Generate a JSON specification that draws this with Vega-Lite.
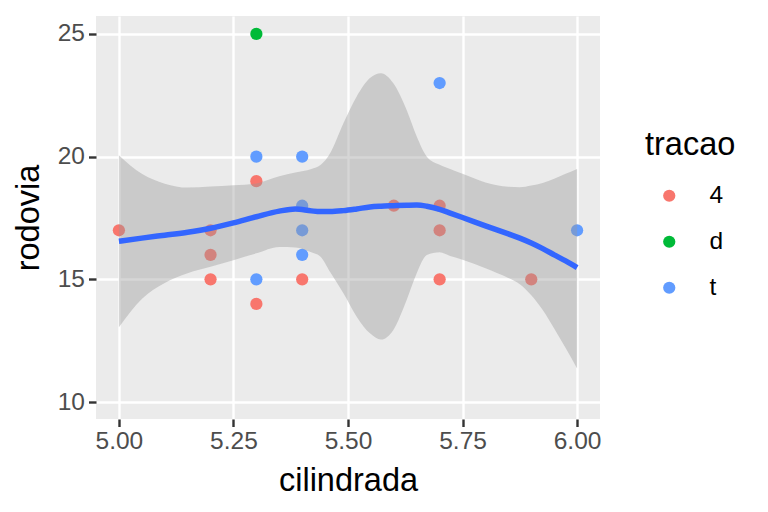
{
  "$schema": "https://vega.github.io/schema/vega-lite/v6.json",
  "width": 504,
  "height": 403,
  "autosize": {"type": "none"},
  "padding": {"left": 96, "top": 16, "right": 168, "bottom": 93},
  "background": "#FFFFFF",
  "config": {
    "font": "Liberation Sans",
    "view": {"fill": "#EBEBEB", "stroke": null},
    "axis": {
      "domain": false,
      "gridColor": "#FFFFFF",
      "gridWidth": 2.4,
      "tickColor": "#333333",
      "tickWidth": 2.4,
      "tickSize": 7.5,
      "labelColor": "#4D4D4D",
      "labelFontSize": 24.5,
      "titleColor": "#000000",
      "titleFontSize": 32.5,
      "titleFontWeight": "normal"
    },
    "legend": {
      "titleFontSize": 32.5,
      "titleFontWeight": "normal",
      "titleColor": "#000000",
      "labelFontSize": 24.5,
      "labelColor": "#000000",
      "symbolType": "circle",
      "symbolSize": 150,
      "symbolStrokeWidth": 0,
      "symbolOpacity": 1,
      "rowPadding": 21,
      "titlePadding": 22,
      "symbolOffset": 12,
      "labelOffset": 28
    }
  },
  "datasets": {
    "pts": [
      {"cilindrada": 5.0, "rodovia": 17, "tracao": "4"},
      {"cilindrada": 5.2, "rodovia": 17, "tracao": "4"},
      {"cilindrada": 5.2, "rodovia": 16, "tracao": "4"},
      {"cilindrada": 5.2, "rodovia": 15, "tracao": "4"},
      {"cilindrada": 5.3, "rodovia": 19, "tracao": "4"},
      {"cilindrada": 5.3, "rodovia": 14, "tracao": "4"},
      {"cilindrada": 5.4, "rodovia": 15, "tracao": "4"},
      {"cilindrada": 5.6, "rodovia": 18, "tracao": "4"},
      {"cilindrada": 5.7, "rodovia": 18, "tracao": "4"},
      {"cilindrada": 5.7, "rodovia": 17, "tracao": "4"},
      {"cilindrada": 5.7, "rodovia": 15, "tracao": "4"},
      {"cilindrada": 5.9, "rodovia": 15, "tracao": "4"},
      {"cilindrada": 5.3, "rodovia": 25, "tracao": "d"},
      {"cilindrada": 5.3, "rodovia": 20, "tracao": "t"},
      {"cilindrada": 5.4, "rodovia": 20, "tracao": "t"},
      {"cilindrada": 5.7, "rodovia": 23, "tracao": "t"},
      {"cilindrada": 5.3, "rodovia": 15, "tracao": "t"},
      {"cilindrada": 5.4, "rodovia": 18, "tracao": "t"},
      {"cilindrada": 5.4, "rodovia": 17, "tracao": "t"},
      {"cilindrada": 5.4, "rodovia": 16, "tracao": "t"},
      {"cilindrada": 6.0, "rodovia": 17, "tracao": "t"}
    ],
    "smooth": [
      {"x": 5.000, "fit": 16.55, "lo": 13.05, "hi": 20.06},
      {"x": 5.050, "fit": 16.68, "lo": 14.20, "hi": 19.30},
      {"x": 5.100, "fit": 16.80, "lo": 14.85, "hi": 18.90},
      {"x": 5.150, "fit": 16.92, "lo": 15.25, "hi": 18.74},
      {"x": 5.200, "fit": 17.08, "lo": 15.51, "hi": 18.78},
      {"x": 5.250, "fit": 17.30, "lo": 15.78, "hi": 18.83},
      {"x": 5.300, "fit": 17.55, "lo": 16.06, "hi": 18.91},
      {"x": 5.350, "fit": 17.78, "lo": 16.32, "hi": 19.20},
      {"x": 5.385, "fit": 17.87, "lo": 16.30, "hi": 19.35},
      {"x": 5.420, "fit": 17.79, "lo": 16.10, "hi": 19.50},
      {"x": 5.440, "fit": 17.76, "lo": 15.92, "hi": 19.66},
      {"x": 5.461, "fit": 17.76, "lo": 15.30, "hi": 20.14},
      {"x": 5.490, "fit": 17.80, "lo": 14.43, "hi": 21.36},
      {"x": 5.519, "fit": 17.87, "lo": 13.48, "hi": 22.45},
      {"x": 5.548, "fit": 17.95, "lo": 12.80, "hi": 23.20},
      {"x": 5.572, "fit": 17.98, "lo": 12.55, "hi": 23.40},
      {"x": 5.599, "fit": 18.00, "lo": 12.94, "hi": 22.99},
      {"x": 5.628, "fit": 18.02, "lo": 14.16, "hi": 21.90},
      {"x": 5.650, "fit": 18.03, "lo": 15.25, "hi": 20.82},
      {"x": 5.672, "fit": 17.98, "lo": 15.99, "hi": 20.00},
      {"x": 5.700, "fit": 17.85, "lo": 16.10, "hi": 19.67},
      {"x": 5.723, "fit": 17.70, "lo": 15.95, "hi": 19.50},
      {"x": 5.750, "fit": 17.52, "lo": 15.80, "hi": 19.30},
      {"x": 5.800, "fit": 17.18, "lo": 15.45, "hi": 18.95},
      {"x": 5.850, "fit": 16.85, "lo": 15.05, "hi": 18.77},
      {"x": 5.875, "fit": 16.68, "lo": 14.80, "hi": 18.75},
      {"x": 5.900, "fit": 16.48, "lo": 14.35, "hi": 18.82},
      {"x": 5.925, "fit": 16.25, "lo": 13.75, "hi": 18.93},
      {"x": 5.950, "fit": 16.00, "lo": 13.00, "hi": 19.10},
      {"x": 5.975, "fit": 15.75, "lo": 12.20, "hi": 19.30},
      {"x": 6.000, "fit": 15.48, "lo": 11.37, "hi": 19.50}
    ]
  },
  "resolve": {"axis": {"x": "independent", "y": "independent"}},
  "layer": [
    {
      "data": {"name": "pts"},
      "mark": {"type": "point", "filled": true, "opacity": 1, "size": 150, "shape": "circle"},
      "encoding": {
        "x": {
          "field": "cilindrada", "type": "quantitative",
          "scale": {"domain": [4.95, 6.05], "nice": false, "zero": false},
          "axis": {"values": [5, 5.25, 5.5, 5.75, 6], "format": ".2f", "title": "cilindrada", "orient": "bottom", "labelPadding": 3, "titlePadding": 11}
        },
        "y": {
          "field": "rodovia", "type": "quantitative",
          "scale": {"domain": [9.31, 25.73], "nice": false, "zero": false},
          "axis": {"values": [10, 15, 20, 25], "title": "rodovia", "orient": "left", "labelPadding": 4, "titlePadding": 12}
        },
        "color": {
          "field": "tracao", "type": "nominal",
          "scale": {"domain": ["4", "d", "t"], "range": ["#F8766D", "#00BA38", "#619CFF"]},
          "legend": {"title": "tracao", "orient": "none", "legendX": 549, "legendY": 113}
        }
      }
    },
    {
      "data": {"name": "smooth"},
      "mark": {"type": "area", "interpolate": "monotone", "color": "#999999", "opacity": 0.4},
      "encoding": {
        "x": {
          "field": "x", "type": "quantitative",
          "scale": {"domain": [4.95, 6.05], "nice": false, "zero": false},
          "axis": {"values": [5.125, 5.375, 5.625, 5.875], "orient": "bottom", "labels": false, "ticks": false, "title": null, "gridWidth": 1.2}
        },
        "y": {
          "field": "lo", "type": "quantitative",
          "scale": {"domain": [9.31, 25.73], "nice": false, "zero": false},
          "axis": {"values": [12.5, 17.5, 22.5], "orient": "left", "labels": false, "ticks": false, "title": null, "gridWidth": 1.2}
        },
        "y2": {"field": "hi"}
      }
    },
    {
      "data": {"name": "smooth"},
      "mark": {"type": "line", "interpolate": "monotone", "color": "#3366FF", "strokeWidth": 5.5},
      "encoding": {
        "x": {"field": "x", "type": "quantitative", "scale": {"domain": [4.95, 6.05], "nice": false, "zero": false}, "axis": null},
        "y": {"field": "fit", "type": "quantitative", "scale": {"domain": [9.31, 25.73], "nice": false, "zero": false}, "axis": null}
      }
    }
  ]
}
